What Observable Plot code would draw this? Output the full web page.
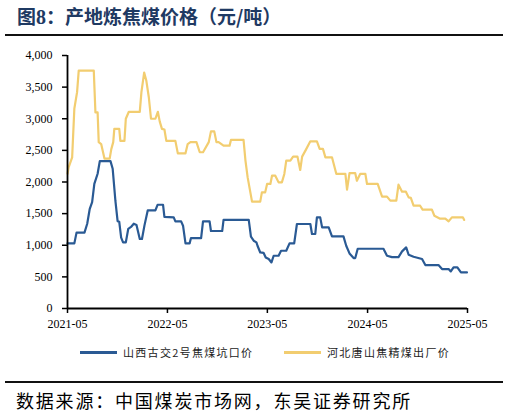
<!DOCTYPE html>
<html>
<head>
<meta charset="utf-8">
<script src="https://cdn.jsdelivr.net/npm/d3@7"></script>
<script src="https://cdn.jsdelivr.net/npm/@observablehq/plot@0.6"></script>
<style>
  html, body { margin: 0; padding: 0; background: #fff; }
  #root { position: relative; width: 509px; height: 416px; overflow: hidden; background: #fff; }
  .abs { position: absolute; }
  #title { left: 17px; top: 4px; font-family: "Noto Sans CJK SC", sans-serif; font-weight: 700; font-size: 19px; color: #1f3a63; white-space: nowrap; line-height: 24px; }
  #title .num { font-family: "Liberation Serif", serif; font-weight: 700; font-size: 20px; }
  .rule { left: 5px; width: 498px; height: 2px; background: #111; }
  #chart { left: 0; top: 40px; }
  #chart svg text { font-family: "Liberation Serif", "Times New Roman", serif !important; font-size: 12px; }
  .sw { height: 3px; }
  .lg { font-family: "Noto Sans CJK SC", sans-serif; font-size: 11px; letter-spacing: 1.3px; color: #222; white-space: nowrap; line-height: 14px; }
  #source { left: 16px; top: 388px; font-family: "Noto Sans CJK SC", sans-serif; font-size: 18px; letter-spacing: 1.8px; color: #000; white-space: nowrap; line-height: 24px; }
</style>
</head>
<body>
<div id="root">
  <div id="title" class="abs">图<span class="num">8</span>：产地炼焦煤价格（元/吨）</div>
  <div class="abs rule" style="top:34px"></div>
  <div id="chart" class="abs"></div>
  <div id="legend"></div>
  <div class="abs rule" style="top:381px"></div>
  <div id="source" class="abs">数据来源：中国煤炭市场网，东吴证券研究所</div>
</div>
<script>
// Series names
const seriesNames = ["山西古交2号焦煤坑口价", "河北唐山焦精煤出厂价"];
const seriesColors = ["#2a5a94", "#f2cd70"];

// Axis ticks
const yTicks = [0, 500, 1000, 1500, 2000, 2500, 3000, 3500, 4000];
const xTicks = ["2021-05-01", "2022-05-01", "2023-05-01", "2024-05-01", "2025-05-01"];

// 山西古交2号焦煤坑口价 (元/吨)
const blueDates = [
  "2021-05-01","2021-05-26","2021-06-03","2021-07-02","2021-07-12","2021-07-21","2021-07-30","2021-08-07",
  "2021-08-19","2021-08-27","2021-10-05","2021-10-13","2021-10-23","2021-10-31","2021-11-06","2021-11-13",
  "2021-11-20","2021-11-30","2021-12-09","2021-12-19","2021-12-29","2022-01-08","2022-01-20","2022-01-28",
  "2022-02-06","2022-02-18","2022-03-18","2022-03-26","2022-04-15","2022-04-20","2022-05-24","2022-05-30",
  "2022-06-20","2022-06-27","2022-07-06","2022-07-21","2022-07-26","2022-09-01","2022-09-08","2022-10-02",
  "2022-10-07","2022-11-17","2022-11-22","2023-02-22","2023-03-02","2023-03-12","2023-03-22","2023-03-26",
  "2023-04-05","2023-04-17","2023-04-25","2023-05-06","2023-05-16","2023-05-24","2023-06-11","2023-06-20",
  "2023-07-09","2023-07-21","2023-08-07","2023-08-17","2023-10-05","2023-10-11","2023-10-23","2023-10-29",
  "2023-11-10","2023-11-17","2023-12-11","2023-12-23","2024-02-03","2024-02-13","2024-02-25","2024-03-11",
  "2024-03-17","2024-03-26","2024-06-28","2024-07-11","2024-07-29","2024-08-22","2024-09-04","2024-09-19",
  "2024-09-28","2024-10-16","2024-11-16","2024-11-28","2025-01-15","2025-01-28","2025-02-21","2025-03-01",
  "2025-03-11","2025-03-25","2025-04-07","2025-04-29"
];
const blueValues = [
  1030,1030,1200,1200,1340,1570,1680,1970,
  2130,2330,2330,2210,1700,1380,1370,1120,
  1045,1045,1260,1290,1340,1320,1100,1100,
  1310,1550,1550,1640,1640,1450,1440,1377,
  1377,1309,1030,1030,1114,1114,1377,1377,
  1225,1225,1400,1400,1135,1072,1045,992,
  886,880,807,782,728,834,834,913,
  913,1029,1029,1336,1336,1178,1178,1441,
  1441,1282,1282,1140,1140,992,871,798,
  798,945,945,834,813,813,903,966,
  850,818,782,687,687,624,624,586,
  650,650,570,570
];

// 河北唐山焦精煤出厂价 (元/吨)
const yellowDates = [
  "2021-05-01","2021-05-05","2021-05-18","2021-05-26","2021-06-05","2021-06-11","2021-08-05","2021-08-11",
  "2021-08-19","2021-08-23","2021-09-01","2021-09-13","2021-10-02","2021-10-08","2021-10-15","2021-10-19",
  "2021-11-06","2021-11-10","2021-11-25","2021-11-30","2021-12-11","2022-01-20","2022-01-26","2022-02-05",
  "2022-02-13","2022-02-22","2022-03-02","2022-03-18","2022-03-27","2022-04-03","2022-04-11","2022-04-20",
  "2022-04-27","2022-05-30","2022-06-08","2022-07-06","2022-07-14","2022-07-24","2022-08-15","2022-08-27",
  "2022-09-08","2022-09-29","2022-10-07","2022-10-19","2022-10-27","2022-11-04","2022-11-22","2022-12-14",
  "2022-12-19","2023-02-03","2023-02-10","2023-02-18","2023-03-06","2023-04-05","2023-04-11","2023-04-23",
  "2023-04-30","2023-05-12","2023-05-18","2023-05-30","2023-06-11","2023-06-23","2023-07-02","2023-07-09",
  "2023-07-24","2023-08-03","2023-08-19","2023-08-29","2023-09-05","2023-09-17","2023-10-05","2023-10-29",
  "2023-11-08","2023-11-20","2023-11-29","2023-12-23","2024-01-08","2024-02-10","2024-02-16","2024-02-25",
  "2024-03-17","2024-03-23","2024-04-04","2024-04-23","2024-04-29","2024-06-07","2024-06-23","2024-07-11",
  "2024-07-23","2024-08-14","2024-08-22","2024-09-04","2024-09-18","2024-09-28","2024-10-06","2024-10-16",
  "2024-11-09","2024-11-18","2024-12-22","2024-12-31","2025-01-21","2025-02-09","2025-02-21","2025-03-05",
  "2025-04-14","2025-04-19"
];
const yellowValues = [
  2130,2230,2390,3160,3420,3760,3760,3100,
  3100,2630,2600,2370,2370,2520,2630,2840,
  2840,2650,2650,3000,3110,3110,3420,3730,
  3600,3340,3000,3000,3110,2955,2840,2830,
  2650,2650,2453,2453,2600,2630,2630,2470,
  2470,2630,2800,2800,2630,2630,2575,2575,
  2665,2665,2338,2073,1690,1690,1836,1836,
  1969,1969,2100,2100,1994,1994,2127,2338,
  2338,2401,2401,2190,2401,2496,2643,2643,
  2523,2523,2390,2390,2127,2127,1880,2140,
  2140,2021,2127,2127,1969,1969,1768,1768,
  1705,1705,1958,1847,1847,1757,1750,1625,
  1625,1562,1562,1467,1420,1420,1377,1441,
  1441,1400
];

const blue = blueDates.map((d, i) => ({date: new Date(d), value: blueValues[i]}));
const yellow = yellowDates.map((d, i) => ({date: new Date(d), value: yellowValues[i]}));
const xStart = new Date(xTicks[0]);
const xEnd = new Date(xTicks[xTicks.length - 1]);
const serif = "Liberation Serif";

const chart = Plot.plot({
  width: 509,
  height: 295,
  marginLeft: 67,
  marginRight: 42,
  marginTop: 15,
  marginBottom: 27,
  style: {fontFamily: serif, fontSize: "12px", color: "#000", background: "transparent"},
  x: {type: "utc", domain: [xStart, xEnd]},
  y: {domain: [0, 4000]},
  marks: [
    Plot.axisY({ticks: yTicks, tickSize: 5, tickPadding: 10, tickFormat: d3.format(","), label: null, strokeWidth: 1.5, fontFamily: serif, fontSize: 12}),
    Plot.axisX({ticks: xTicks.map(d => new Date(d)), tickSize: 5, tickPadding: 6, tickFormat: d3.utcFormat("%Y-%m"), label: null, strokeWidth: 1.5, fontFamily: serif, fontSize: 12}),
    Plot.line(yellow, {x: "date", y: "value", stroke: seriesColors[1], strokeWidth: 2.2}),
    Plot.line(blue, {x: "date", y: "value", stroke: seriesColors[0], strokeWidth: 2.2}),
    Plot.ruleX([xStart], {y1: 0, y2: 4000, stroke: "#000", strokeWidth: 1.8}),
    Plot.ruleY([0], {stroke: "#000", strokeWidth: 1.8})
  ]
});
document.getElementById("chart").appendChild(chart);

// Legend
const legend = document.getElementById("legend");
const lgPos = [{sx: 80, tx: 123}, {sx: 284, tx: 327}];
seriesNames.forEach((name, i) => {
  const sw = document.createElement("div");
  sw.className = "abs sw";
  sw.style.left = lgPos[i].sx + "px";
  sw.style.top = "351px";
  sw.style.width = "37px";
  sw.style.background = seriesColors[i];
  legend.appendChild(sw);
  const tx = document.createElement("div");
  tx.className = "abs lg";
  tx.style.left = lgPos[i].tx + "px";
  tx.style.top = "345px";
  tx.textContent = name;
  legend.appendChild(tx);
});
</script>
</body>
</html>
